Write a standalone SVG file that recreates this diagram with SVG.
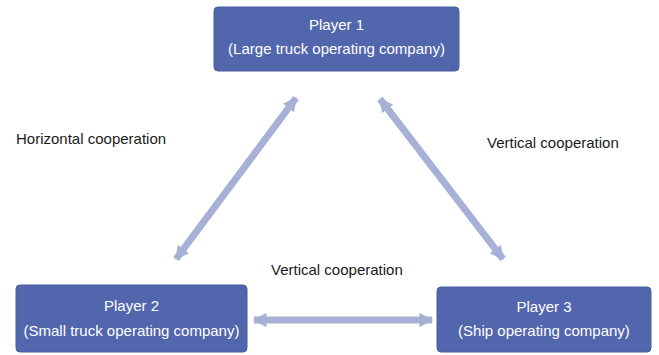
<svg xmlns="http://www.w3.org/2000/svg" width="659" height="355" viewBox="0 0 659 355">
<style>
.box{fill:#5266ad;stroke:#4a5c9e;stroke-width:1}
.bt{font-family:"Liberation Sans",Arial,sans-serif;font-size:15px;fill:#ffffff;text-anchor:middle}
.lbl{font-family:"Liberation Sans",Arial,sans-serif;font-size:15px;fill:#1a1a1a}
.conn{stroke:#a7b1d7;stroke-width:7;fill:none;marker-start:url(#ah);marker-end:url(#ah)}
</style>
<defs>
<marker id="ah" viewBox="0 0 10 10" refX="9" refY="5" markerWidth="2" markerHeight="2" orient="auto-start-reverse" markerUnits="strokeWidth">
<path d="M0,0 L10,5 L0,10 Z" fill="#a7b1d7"/>
</marker>
</defs>
<rect width="659" height="355" fill="#ffffff"/>
<g id="connectors">
<line class="conn" x1="176" y1="259" x2="296" y2="98"/>
<line class="conn" x1="380" y1="99" x2="503" y2="259"/>
<line class="conn" x1="254" y1="320" x2="432" y2="320"/>
</g>
<g id="player1">
<rect class="box" x="214" y="7" width="245" height="64" rx="4"/>
<text class="bt" x="336.5" y="30">Player 1</text>
<text class="bt" x="336.5" y="54">(Large truck operating company)</text>
</g>
<g id="player2">
<rect class="box" x="16" y="285" width="231" height="67" rx="4"/>
<text class="bt" x="131.5" y="311">Player 2</text>
<text class="bt" x="131.5" y="336">(Small truck operating company)</text>
</g>
<g id="player3">
<rect class="box" x="437" y="287" width="214" height="65" rx="4"/>
<text class="bt" x="544" y="312">Player 3</text>
<text class="bt" x="544" y="336">(Ship operating company)</text>
</g>
<g id="labels">
<text class="lbl" x="16" y="144">Horizontal cooperation</text>
<text class="lbl" x="487" y="148">Vertical cooperation</text>
<text class="lbl" x="271" y="275">Vertical cooperation</text>
</g>
</svg>
